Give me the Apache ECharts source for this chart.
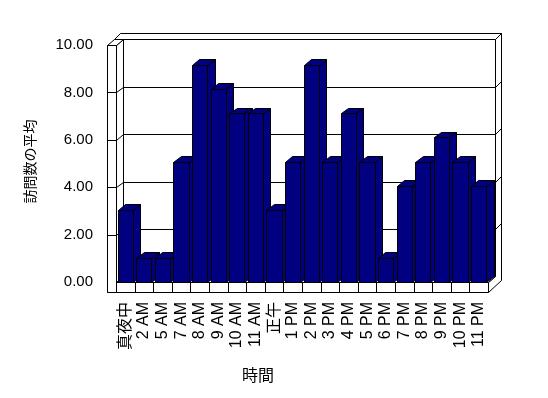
<!DOCTYPE html>
<html>
<head>
<meta charset="utf-8">
<script src="https://cdn.jsdelivr.net/npm/echarts@6/dist/echarts.min.js"></script>
<style>
html,body{margin:0;padding:0;background:#fff;}
#chart{width:548px;height:398px;}
</style>
</head>
<body>
<div id="chart"></div>
<script>
const categories = ['真夜中','2 AM','5 AM','7 AM','8 AM','9 AM','10 AM','11 AM','正午','1 PM','2 PM','3 PM','4 PM','5 PM','6 PM','7 PM','8 PM','9 PM','10 PM','11 PM'];
const visits = [3,1,1,5,9,8,7,7,3,5,9,5,7,5,1,4,5,6,5,4];
const yTicks = [0,2,4,6,8,10];

const FONT = '"Liberation Sans","Noto Sans CJK JP",sans-serif';
const NAVY = '#000080';
const DX = 7.3, DY = -5.7;   // depth of bars / inner walls
const SX = 6, SY = -6;       // wall slab thickness (back)
const TW = 9;                // left wall thickness
const FH = 10;               // floor thickness
const p = n => Math.round(n) + 0.5;
const pt = (x, y) => [p(x), p(y)];

const chart = echarts.init(document.getElementById('chart'), null, {renderer: 'canvas'});

const lineStyle = {fill: '#fff', stroke: '#000', lineWidth: 1};

function renderWalls(params, api) {
  const n = categories.length;
  const bw = api.size([1, 0])[0];
  const L = api.coord([0, 0])[0] - bw / 2;
  const R = api.coord([n - 1, 0])[0] + bw / 2;
  const y = v => api.coord([0, v])[1];
  const B = y(0), T = y(yTicks[yTicks.length - 1]);
  const ch = [];
  const poly = pts => ({type: 'polygon', shape: {points: pts.map(q => pt(q[0], q[1]))}, style: lineStyle});
  const line = pts => ({type: 'polyline', shape: {points: pts.map(q => pt(q[0], q[1]))}, style: {stroke: '#000', lineWidth: 1, fill: null}});
  // back wall inner face
  ch.push(poly([[L + DX, T + DY], [R + DX, T + DY], [R + DX, B + DY], [L + DX, B + DY]]));
  // back wall top face
  ch.push(poly([[L - TW + DX, T + DY], [R + DX, T + DY], [R + DX + SX, T + DY + SY], [L - TW + DX + SX, T + DY + SY]]));
  // right side strip
  ch.push(poly([[R, B], [R + DX, B + DY], [R + DX, T + DY], [R + DX + SX, T + DY + SY], [R + DX + SX, B + FH + DY + SY], [R, B + FH]]));
  // floor top
  ch.push(poly([[L, B], [R, B], [R + DX, B + DY], [L + DX, B + DY]]));
  // floor front
  ch.push(poly([[L - TW, B], [R, B], [R, B + FH], [L - TW, B + FH]]));
  for (let i = 1; i < n; i++) {
    ch.push(line([[L + i * bw, B], [L + i * bw, B + FH]]));
  }
  // left wall inner face
  ch.push(poly([[L, T], [L + DX, T + DY], [L + DX, B + DY], [L, B]]));
  // left wall top
  ch.push(poly([[L - TW, T], [L, T], [L + DX, T + DY], [L - TW + DX, T + DY]]));
  // left wall front
  ch.push(poly([[L - TW, T], [L, T], [L, B + FH], [L - TW, B + FH]]));
  // gridlines
  yTicks.slice(1, -1).forEach(v => {
    const yy = y(v);
    ch.push(line([[L - TW, yy], [L, yy], [L + DX, yy + DY], [R + DX, yy + DY], [R + DX + SX, yy + DY + SY]]));
  });
  return {type: 'group', children: ch};
}

function renderBar(params, api) {
  const i = api.value(0), v = api.value(1);
  const bw = api.size([1, 0])[0];
  const c = api.coord([i, v]);
  const b = api.coord([i, 0]);
  const x0 = c[0] - bw / 2 + bw * 0.09;
  const x1 = x0 + bw * 0.815;
  const yt = c[1], yb = b[1];
  const st = {fill: NAVY, stroke: '#000', lineWidth: 1};
  const poly = pts => ({type: 'polygon', shape: {points: pts.map(q => pt(q[0], q[1]))}, style: st});
  return {type: 'group', children: [
    poly([[x1, yt], [x1 + DX, yt + DY], [x1 + DX, yb + DY], [x1, yb]]),
    poly([[x0, yt], [x1, yt], [x1 + DX, yt + DY], [x0 + DX, yt + DY]]),
    poly([[x0, yt], [x1, yt], [x1, yb], [x0, yb]])
  ]};
}

const option = {
  backgroundColor: '#fff',
  animation: false,
  textStyle: {fontFamily: FONT},
  grid: {left: 116, right: 60, top: 41, bottom: 116},
  xAxis: {
    type: 'category',
    data: categories,
    axisLine: {show: false},
    axisTick: {show: false},
    splitLine: {show: false},
    axisLabel: {rotate: 90, margin: 20, fontSize: 16, color: '#000', interval: 0, fontFamily: FONT},
    name: '時間',
    nameLocation: 'middle',
    nameGap: 87,
    nameTextStyle: {fontSize: 16, color: '#000', fontFamily: FONT, padding: [0, 88, 0, 0]}
  },
  yAxis: [
    {type: 'value', min: 0, max: 10, show: false, position: 'right'},
    {
      type: 'value', min: 0, max: 10.17, interval: 2, position: 'left',
      axisLine: {show: false}, axisTick: {show: false}, splitLine: {show: false},
      axisLabel: {margin: 23, fontSize: 15, color: '#000', fontFamily: FONT,
        formatter: v => yTicks.includes(v) ? v.toFixed(2) : ''},
      name: '訪問数の平均',
      nameLocation: 'middle',
      nameGap: 78,
      nameRotate: 90,
      nameTextStyle: {fontSize: 14, color: '#000', fontFamily: FONT}
    }
  ],
  series: [
    {
      type: 'custom', xAxisIndex: 0, yAxisIndex: 1, z: 1, silent: true, clip: false,
      data: [[0, 0]], renderItem: renderWalls
    },
    {
      type: 'custom', xAxisIndex: 0, yAxisIndex: 0, z: 2, silent: true, clip: false,
      data: visits.map((v, i) => [i, v]),
      encode: {x: 0, y: 1},
      renderItem: renderBar
    }
  ]
};
chart.setOption(option);
</script>
</body>
</html>
